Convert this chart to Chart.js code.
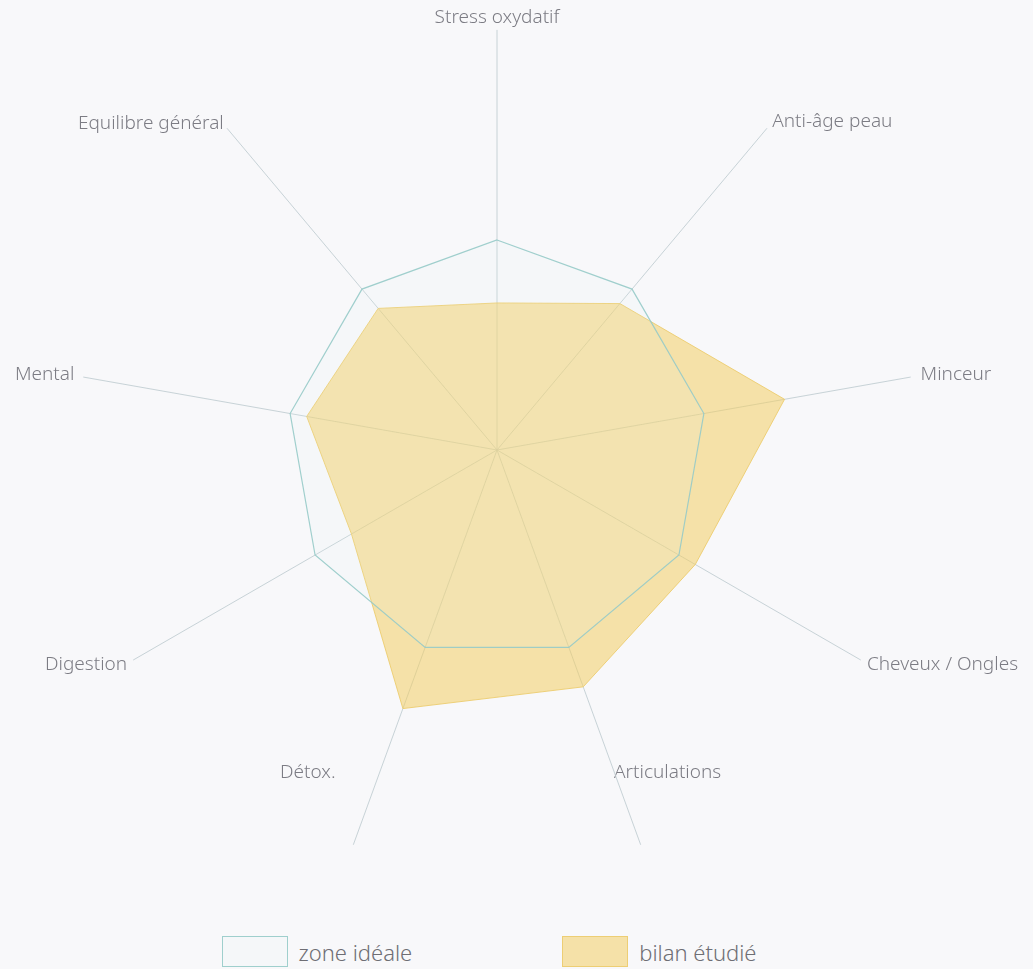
<!DOCTYPE html>
<html lang="fr">
<head>
<meta charset="utf-8">
<title>Bilan</title>
<script src="https://cdn.jsdelivr.net/npm/chart.js@4/dist/chart.umd.min.js"></script>
<style>
  html, body { margin: 0; padding: 0; background: #f8f8fa; }
  #wrap { position: relative; width: 1033px; height: 969px; overflow: hidden; }
  /* canvas a bit wider than the page so the long right-hand labels fit */
  #chartBox { position: absolute; left: -40px; top: -9px; width: 1074px; height: 886px; }
  #legend {
    position: absolute; left: 0; top: 936px; width: 978px;
    display: flex; justify-content: center; gap: 150px;
    font-family: 'Noto Sans', sans-serif; font-size: 22px; font-weight: 300; color: #6e6e74;
  }
  .lg-item { display: flex; align-items: center; }
  .lg-box { width: 64px; height: 29px; margin-right: 11px; border: 1px solid; }
</style>
</head>
<body>
<div id="wrap">
  <div id="chartBox"><canvas id="radar"></canvas></div>
  <div id="legend"></div>
</div>
<script>
// axes (clockwise from top)
const axes = [
  'Stress oxydatif', 'Anti-âge peau', 'Minceur', 'Cheveux / Ongles',
  'Articulations', 'Détox.' + '\u00a0'.repeat(9), 'Digestion', 'Mental', 'Equilibre général'
];
const idealValues = [5, 5, 5, 5, 5, 5, 5, 5, 5];
const bilanValues = [3.5, 4.55, 6.95, 5.45, 6.0, 6.55, 4.0, 4.6, 4.4];
const scaleMin = 0;
const scaleMax = 10;
// per-label distance from the spoke end
const labelPad = [11, 8, 10, 7, -78, -78, 7, 9, 5];

const colors = {
  ideal:  { line: 'rgba(150,202,200,0.9)', fill: 'rgba(225,242,242,0.1)' },
  bilan:  { line: 'rgba(236,204,110,0.9)', fill: 'rgba(242,206,100,0.55)' },
};

const chart = new Chart(document.getElementById('radar').getContext('2d'), {
  type: 'radar',
  data: {
    labels: axes,
    datasets: [
      { label: 'zone idéale',  data: idealValues, borderColor: colors.ideal.line, backgroundColor: colors.ideal.fill, borderWidth: 1.2, pointRadius: 0, fill: true },
      { label: 'bilan étudié', data: bilanValues, borderColor: colors.bilan.line, backgroundColor: colors.bilan.fill, borderWidth: 1, pointRadius: 0, fill: true },
    ],
  },
  options: {
    responsive: true,
    maintainAspectRatio: false,
    animation: false,
    layout: { padding: { top: 20, left: 0, right: 0, bottom: 0 } },
    plugins: {
      legend: { display: false },
      tooltip: { enabled: false },
    },
    scales: {
      r: {
        min: scaleMin,
        max: scaleMax,
        grid: { display: false },
        ticks: { display: false },
        angleLines: { color: 'rgba(190,203,208,0.85)', lineWidth: 1 },
        pointLabels: {
          color: '#7c7c84',
          // tiny line height: labels sit centred on the spoke ends
          font: { family: 'Noto Sans', size: 19, weight: '300', lineHeight: 0.1 },
          padding: ctx => labelPad[ctx.index],
        },
      },
    },
  },
});

// legend built from the datasets
document.getElementById('legend').innerHTML = chart.data.datasets.map(ds => `
  <div class="lg-item">
    <span class="lg-box" style="background:${ds.backgroundColor};border-color:${ds.borderColor}"></span>
    <span>${ds.label}</span>
  </div>`).join('');
</script>
</body>
</html>
